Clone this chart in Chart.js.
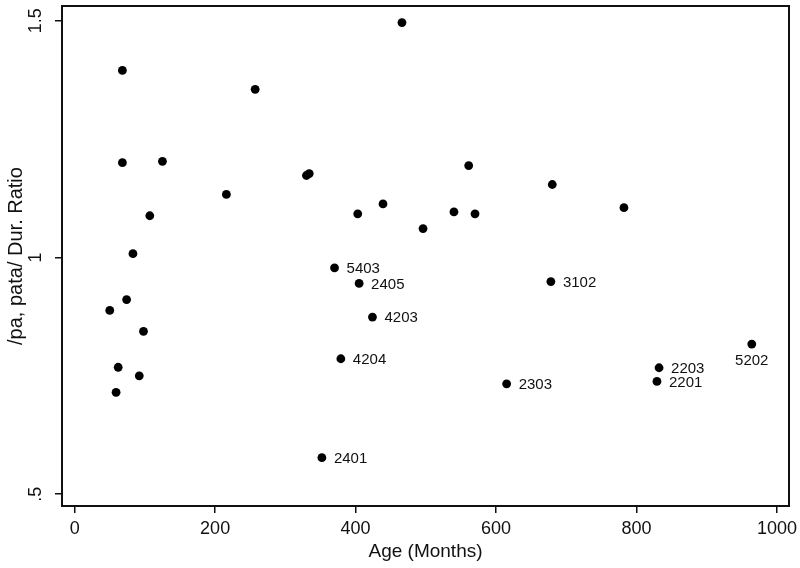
<!DOCTYPE html>
<html>
<head>
<meta charset="utf-8">
<script src="https://cdn.jsdelivr.net/npm/chart.js@4/dist/chart.umd.min.js"></script>
<style>
  html, body { margin: 0; padding: 0; background: #fff; }
  #wrap { width: 800px; height: 568px; }
</style>
</head>
<body>
<div id="wrap"><canvas id="ratioChart" width="800" height="568"></canvas></div>
<script>
// datos: edad en meses vs razon de duracion
var ages   = [68, 68, 125, 107, 83, 74, 50, 98, 62, 92, 59,
              216, 257, 330, 334, 466, 403, 439, 496, 540, 561, 570, 680, 782,
              370, 405, 424, 379, 352, 615, 678, 832, 829, 964];
var ratios = [1.395, 1.200, 1.203, 1.088, 1.008, 0.911, 0.888, 0.844, 0.768, 0.750, 0.715,
              1.133, 1.355, 1.173, 1.177, 1.496, 1.092, 1.113, 1.061, 1.096, 1.194, 1.092, 1.154, 1.105,
              0.978, 0.945, 0.874, 0.786, 0.577, 0.733, 0.949, 0.767, 0.738, 0.817];
var pointIds = ['', '', '', '', '', '', '', '', '', '', '',
                '', '', '', '', '', '', '', '', '', '', '', '', '',
                '5403', '2405', '4203', '4204', '2401', '2303', '3102', '2203', '2201', '5202'];
var labelBelow = ['5202'];

var xTicks = [0, 200, 400, 600, 800, 1000];
var yTicks = [0.5, 1, 1.5];

var fontFamily = '"Liberation Sans", Arial, Helvetica, sans-serif';

// caja alrededor del area y etiquetas de los puntos
var boxAndLabels = {
    id: 'boxAndLabels',
    afterDatasetsDraw: function(chart) {
        var ctx = chart.ctx;
        var a = chart.chartArea;
        ctx.save();
        ctx.strokeStyle = '#111';
        ctx.lineWidth = 2;
        ctx.strokeRect(a.left, a.top, a.right - a.left, a.bottom - a.top);

        var meta = chart.getDatasetMeta(0);
        ctx.font = '15px ' + fontFamily;
        ctx.fillStyle = '#111';
        meta.data.forEach(function(pt, i) {
            var id = pointIds[i];
            if (!id) return;
            if (labelBelow.indexOf(id) >= 0) {
                ctx.textAlign = 'center';
                ctx.textBaseline = 'top';
                ctx.fillText(id, pt.x, pt.y + 9);
            } else {
                ctx.textAlign = 'left';
                ctx.textBaseline = 'middle';
                ctx.fillText(id, pt.x + 12, pt.y + 1);
            }
        });
        ctx.restore();
    }
};

// quitar el relleno extra que chart.js agrega por las etiquetas de los extremos
function sinPadding(scale) {
    scale.paddingTop = 0;
    scale.paddingBottom = 0;
    scale.paddingLeft = 0;
    scale.paddingRight = 0;
}

var points = ages.map(function(a, i) { return { x: a, y: ratios[i] }; });

var ctx = document.getElementById('ratioChart').getContext('2d');
var ratioChart = new Chart(ctx, {
    type: 'scatter',
    data: {
        datasets: [{
            data: points,
            backgroundColor: '#000',
            borderColor: '#000',
            pointRadius: 4.4,
            pointHoverRadius: 4.4,
            borderWidth: 0
        }]
    },
    options: {
        responsive: false,
        animation: false,
        devicePixelRatio: 1,
        layout: { padding: { top: 6, right: 11, left: 0, bottom: 0 } },
        plugins: {
            legend: { display: false },
            tooltip: { enabled: false }
        },
        scales: {
            x: {
                type: 'linear',
                min: -18,
                max: 1017,
                afterBuildTicks: function(scale) {
                    scale.ticks = xTicks.map(function(v) { return { value: v }; });
                },
                afterFit: function(scale) { scale.height = 62; sinPadding(scale); },
                grid: { display: true, drawOnChartArea: false, drawTicks: true, tickLength: 7, color: '#111', lineWidth: 1.5 },
                border: { display: true, color: '#111', width: 2 },
                ticks: {
                    color: '#111',
                    font: { family: fontFamily, size: 18 },
                    padding: 5,
                    maxRotation: 0,
                    callback: function(v) { return String(v); }
                },
                title: {
                    display: true,
                    text: 'Age (Months)',
                    color: '#111',
                    font: { family: fontFamily, size: 19 },
                    padding: { top: 0, bottom: 5 }
                }
            },
            y: {
                type: 'linear',
                min: 0.475,
                max: 1.531,
                afterBuildTicks: function(scale) {
                    scale.ticks = yTicks.map(function(v) { return { value: v }; });
                },
                afterFit: function(scale) { scale.width = 62; sinPadding(scale); },
                grid: { display: true, drawOnChartArea: false, drawTicks: true, tickLength: 7, color: '#111', lineWidth: 1.5 },
                border: { display: true, color: '#111', width: 2 },
                ticks: {
                    color: '#111',
                    font: { family: fontFamily, size: 18 },
                    padding: 6,
                    minRotation: 90,
                    maxRotation: 90,
                    crossAlign: 'center',
                    callback: function(v) { return v === 0.5 ? '.5' : String(v); }
                },
                title: {
                    display: true,
                    text: '/pa, pata/ Dur. Ratio',
                    color: '#111',
                    font: { family: fontFamily, size: 20 },
                    padding: { top: 4, bottom: 0 }
                }
            }
        }
    },
    plugins: [boxAndLabels]
});
</script>
</body>
</html>
